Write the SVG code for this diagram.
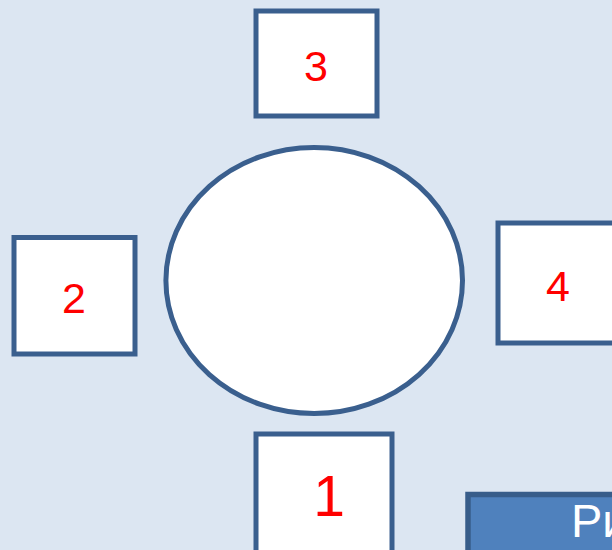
<svg xmlns="http://www.w3.org/2000/svg" width="612" height="550" viewBox="0 0 612 550">
<style>
.box{fill:#ffffff;stroke:#3a5f8e;stroke-width:5}
.num{fill:#ff0000;font-family:"Liberation Sans",Arial,sans-serif;text-anchor:middle}
</style>
<rect x="0" y="0" width="612" height="550" fill="#dce6f2"/>
<g id="node-center">
<ellipse class="box" cx="314.2" cy="280.5" rx="148.3" ry="133"/>
</g>
<g id="node-3">
<rect class="box" x="256" y="11" width="121" height="105"/>
<text class="num" x="316" y="81" font-size="43">3</text>
</g>
<g id="node-2">
<rect class="box" x="14" y="237.5" width="121" height="116.5"/>
<text class="num" x="74" y="313" font-size="43">2</text>
</g>
<g id="node-4">
<rect class="box" x="498" y="223" width="130" height="120"/>
<text class="num" x="558" y="301" font-size="43">4</text>
</g>
<g id="node-1">
<rect class="box" x="256" y="434" width="136" height="130"/>
<text class="num" x="329" y="516" font-size="57">1</text>
</g>
<g id="caption">
<rect x="468" y="494.5" width="160" height="70" fill="#4f81bd" stroke="#385d8a" stroke-width="5.5"/>
<text x="571" y="537" font-size="47" fill="#ffffff" font-family="Liberation Sans,Arial,sans-serif">Ри</text>
</g>
<g id="connectors"></g>
</svg>
